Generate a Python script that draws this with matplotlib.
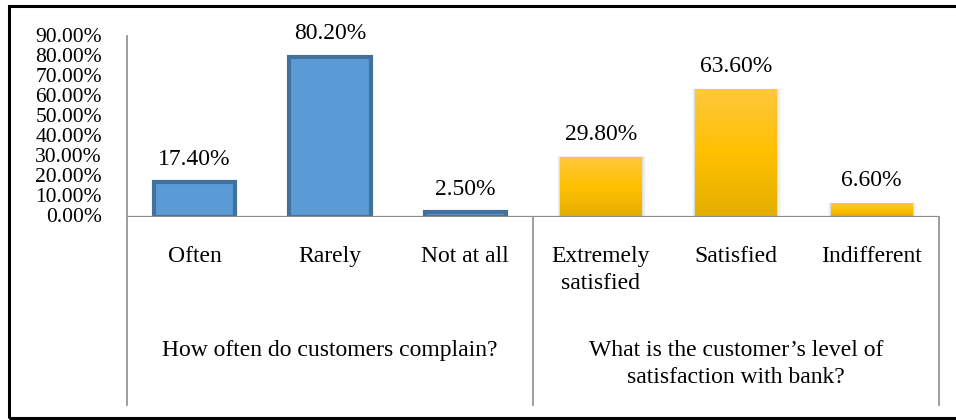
import matplotlib
matplotlib.use("Agg")
import matplotlib.pyplot as plt
import numpy as np
from matplotlib.patches import Rectangle
from matplotlib.colors import LinearSegmentedColormap

plt.rcParams['font.family'] = 'Liberation Serif'

# Data
complain_cats = ["Often", "Rarely", "Not at all"]
complain_vals = [17.40, 80.20, 2.50]
satisf_cats = ["Extremely\nsatisfied", "Satisfied", "Indifferent"]
satisf_vals = [29.80, 63.60, 6.60]
group_labels = ["How often do customers complain?",
                "What is the customer\u2019s level of\nsatisfaction with bank?"]
yticks = [0, 10, 20, 30, 40, 50, 60, 70, 80, 90]

W, H = 956, 420
fig = plt.figure(figsize=(W / 100, H / 100), dpi=100)

# outer frame
fig.patches.append(Rectangle((9 / W, 1 - 418 / H), 1.2, (418 - 6) / H,
                             transform=fig.transFigure, fill=False,
                             edgecolor='black', linewidth=2.2, zorder=0))

ax_l, ax_r, ax_top, ax_base = 127, 939, 37, 217
ax = fig.add_axes([ax_l / W, 1 - ax_base / H, (ax_r - ax_l) / W, (ax_base - ax_top) / H])
ax.set_xlim(0, 6)
ax.set_ylim(0, 90)
for s in ['top', 'right', 'bottom', 'left']:
    ax.spines[s].set_visible(False)
ax.set_xticks([])
ax.set_yticks(yticks)
ax.set_yticklabels([f"{v:.2f}%" for v in yticks], fontsize=15.5)
ax.tick_params(axis='y', length=0, pad=18)
for lbl in ax.get_yticklabels():
    lbl.set_verticalalignment('center')

grey = '#8c8c8c'
# baseline
ax.axhline(0, color=grey, linewidth=1.6, zorder=5)

# vertical axis line and group separators below the plot area
bottom_y = 405
def fig_vline(xpix, y0pix, y1pix):
    fig.add_artist(plt.Line2D([xpix / W, xpix / W], [1 - y0pix / H, 1 - y1pix / H],
                              transform=fig.transFigure, color=grey, linewidth=1.2))
fig_vline(ax_l, ax_top - 1, bottom_y)
fig_vline((ax_l + ax_r) / 2, ax_base, bottom_y)
fig_vline(ax_r, ax_base, bottom_y)

bw = 0.6
# Blue bars
for i, v in enumerate(complain_vals):
    ax.bar(i + 0.5, v, width=bw, color='#5B9BD5', edgecolor='#41719C', linewidth=3,
           zorder=3)

# Gold gradient bars with a soft shadow
gold = LinearSegmentedColormap.from_list('gold', ['#FFC83D', '#FFC000', '#E3AE00'])
grad = np.linspace(0, 1, 256).reshape(-1, 1)
for i, v in enumerate(satisf_vals):
    x = i + 3.5
    x0, x1 = x - bw / 2, x + bw / 2
    for k, a in enumerate([0.07, 0.045, 0.025]):
        d = 0.012 * (k + 1)
        ax.add_patch(Rectangle((x0 - d * 0.6, 0), (x1 - x0) + d * 1.6, v + 0.25 * (k + 1),
                               facecolor='black', alpha=a, linewidth=0, zorder=2))
    ax.imshow(grad, cmap=gold, aspect='auto', extent=(x0, x1, 0, v),
              origin='upper', zorder=3)

ax.set_xlim(0, 6)
ax.set_ylim(0, 90)

# value labels
for i, v in enumerate(complain_vals + satisf_vals):
    ax.annotate(f"{v:.2f}%", (i + 0.5, v), xytext=(0, 9), textcoords='offset points',
                ha='center', va='bottom', fontsize=17)

# category labels
cats = complain_cats + satisf_cats
slot = (ax_r - ax_l) / 6
for i, c in enumerate(cats):
    fig.text((ax_l + (i + 0.5) * slot) / W, 1 - 246 / H, c,
             ha='center', va='top', fontsize=17, linespacing=1.4)

# group labels
for g, lab in enumerate(group_labels):
    xc = (ax_l + (g * 3 + 1.5) * slot) / W
    fig.text(xc, 1 - 340 / H, lab, ha='center', va='top', fontsize=17,
             linespacing=1.4)

fig.savefig("out.png", dpi=100)
